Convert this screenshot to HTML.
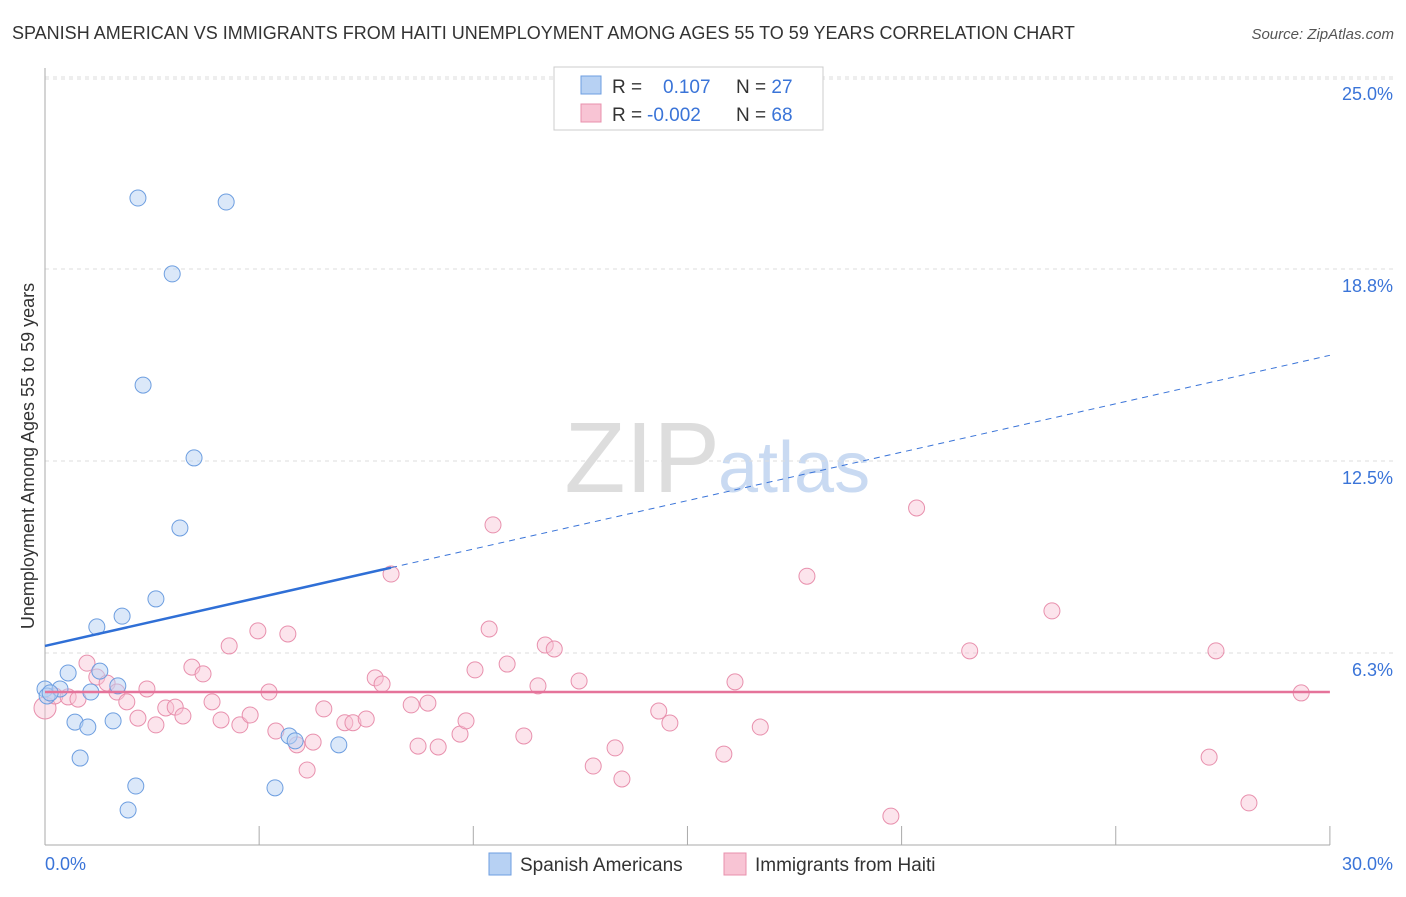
<!DOCTYPE html>
<html><head><meta charset="utf-8"><style>
body{margin:0;background:#fff;font-family:"Liberation Sans",sans-serif}
svg text{font-family:"Liberation Sans",sans-serif}
</style></head><body>
<svg id="chart" width="1406" height="892">
<text x="12" y="39" font-size="18" fill="#333">SPANISH AMERICAN VS IMMIGRANTS FROM HAITI UNEMPLOYMENT AMONG AGES 55 TO 59 YEARS CORRELATION CHART</text>
<text x="1394" y="39" font-size="15" fill="#555" font-style="italic" text-anchor="end">Source: ZipAtlas.com</text>
<text x="720" y="492" font-size="100" fill="#ddd" text-anchor="end" font-family="Liberation Serif">ZIP</text>
<text x="718" y="492" font-size="72" fill="#c9daf2">atlas</text>
<g id="grid"></g><g id="axes"></g><g id="marks"></g>
<text transform="translate(34,456) rotate(-90)" font-size="18" fill="#333" text-anchor="middle">Unemployment Among Ages 55 to 59 years</text>
<g>
<rect x="554" y="67" width="269" height="63" fill="#fff" stroke="#ccc"/>
<rect x="581" y="76" width="20" height="18" fill="#b7d1f3" stroke="#6d9ee0"/>
<rect x="581" y="104" width="20" height="18" fill="#f8c4d4" stroke="#e890ad"/>
<text x="612" y="93" font-size="19" fill="#333">R = <tspan fill="#3a74d8" x="663">0.107</tspan><tspan x="736" fill="#333">N = </tspan><tspan fill="#3a74d8">27</tspan></text>
<text x="612" y="121" font-size="19" fill="#333">R = <tspan fill="#3a74d8" x="647">-0.002</tspan><tspan x="736" fill="#333">N = </tspan><tspan fill="#3a74d8">68</tspan></text>
</g>
<g>
<rect x="489" y="853" width="22" height="22" fill="#b7d1f3" stroke="#6d9ee0"/>
<text x="520" y="871" font-size="19" fill="#333">Spanish Americans</text>
<rect x="724" y="853" width="22" height="22" fill="#f8c4d4" stroke="#e890ad"/>
<text x="755" y="871" font-size="19" fill="#333">Immigrants from Haiti</text>
</g>
</svg>
<script>
const xTicks=[0,5,10,15,20,25,30];
const yTicks=[6.25,12.5,18.75,25];
const yTickLabels=["6.3%","12.5%","18.8%","25.0%"];
const blueX=[0,0.05,0.35,0.54,0.7,0.82,1.0,1.07,1.21,1.28,1.59,1.7,1.8,1.94,2.12,2.17,2.29,2.59,2.97,3.15,3.48,4.23,5.37,5.7,5.84,6.86,0.12];
const blueY=[5.08,4.85,5.08,5.6,4.0,2.83,3.84,4.98,7.1,5.66,4.04,5.18,7.45,1.14,1.92,21.06,14.97,8.01,18.59,10.32,12.6,20.93,1.86,3.55,3.39,3.26,4.95];
const pinkX=[0,0.23,0.54,0.77,0.98,1.21,1.45,1.68,1.91,2.17,2.38,2.59,2.82,3.04,3.22,3.43,3.69,3.9,4.11,4.3,4.55,4.79,4.97,5.23,5.39,5.67,5.88,6.12,6.26,6.51,7.0,7.19,7.5,7.71,7.87,8.08,8.55,8.71,8.94,9.18,9.69,9.83,10.04,10.46,10.79,11.18,11.51,11.68,11.89,12.47,12.8,13.31,13.47,14.33,14.59,15.85,16.11,16.7,17.79,19.75,20.35,21.59,23.51,27.18,27.34,28.11,29.33,10.37];
const pinkY=[4.46,4.85,4.82,4.75,5.92,5.47,5.27,4.98,4.66,4.13,5.08,3.91,4.46,4.49,4.2,5.79,5.57,4.66,4.07,6.48,3.91,4.23,6.97,4.98,3.71,6.87,3.26,2.44,3.35,4.43,3.98,3.98,4.1,5.44,5.24,8.82,4.56,3.22,4.62,3.19,3.61,4.04,5.7,10.42,5.89,3.55,5.18,6.51,6.38,5.34,2.57,3.16,2.15,4.36,3.97,2.96,5.31,3.84,8.75,0.94,10.97,6.32,7.62,2.86,6.32,1.37,4.95,7.03];
const blueLine=[0,6.48,30,15.94];
const blueSolidEnd=8.08;
const pinkMean=4.98;
const X=v=>45+v*42.83, Y=v=>845-v*30.72;
const NS="http://www.w3.org/2000/svg";
function mk(parent,tag,attrs){const e=document.createElementNS(NS,tag);for(const k in attrs)e.setAttribute(k,attrs[k]);document.getElementById(parent).appendChild(e);return e;}
yTicks.forEach((t,i)=>{
 const g=mk('grid','line',{x1:45,x2:1395,y1:Y(t),y2:Y(t),stroke:'#ddd','stroke-dasharray':'4,4'});
 
 
 const l=mk('axes','text',{x:1393,y:Y(t)+23,'font-size':18,fill:'#3a74d8','text-anchor':'end'});
 l.textContent=yTickLabels[i];
 
 
});
const topg=mk('grid','line',{x1:45,x2:1395,y1:Y(25)+2,y2:Y(25)+2,stroke:'#ddd','stroke-dasharray':'4,4'});


const ya=mk('axes','line',{x1:45,x2:45,y1:68,y2:845,stroke:'#aaa'});


const xa=mk('axes','line',{x1:45,x2:1330,y1:845,y2:845,stroke:'#aaa'});


xTicks.forEach(t=>{
 const k=mk('axes','line',{x1:X(t),x2:X(t),y1:826,y2:845,stroke:'#aaa'});
 
 
});
const xl0=mk('axes','text',{x:45,y:870,'font-size':18,fill:'#3a74d8'});xl0.textContent=xTicks[0].toFixed(1)+'%';


const xl1=mk('axes','text',{x:1393,y:870,'font-size':18,fill:'#3a74d8','text-anchor':'end'});xl1.textContent=xTicks[6].toFixed(1)+'%';


pinkX.forEach((x,i)=>{
 const c=mk('marks','circle',{cx:X(x),cy:Y(pinkY[i]),r:i==0?11:8,fill:'rgba(248,196,212,0.45)',stroke:'#e890ad','stroke-width':1});
 
 
});
blueX.forEach((x,i)=>{
 const c=mk('marks','circle',{cx:X(x),cy:Y(blueY[i]),r:8,fill:'rgba(183,209,243,0.5)',stroke:'#6d9ee0','stroke-width':1});
 
 
});
const by=v=>blueLine[1]+(blueLine[3]-blueLine[1])*(v-blueLine[0])/(blueLine[2]-blueLine[0]);
const bd=mk('marks','line',{x1:X(blueSolidEnd),y1:Y(by(blueSolidEnd)),x2:X(30),y2:Y(by(30)),stroke:'#3a74d8','stroke-width':1,'stroke-dasharray':'6,5'});


const bs=mk('marks','line',{x1:X(0),y1:Y(by(0)),x2:X(blueSolidEnd),y2:Y(by(blueSolidEnd)),stroke:'#2f6fd6','stroke-width':2.5});


const pl=mk('marks','line',{x1:X(0),y1:Y(pinkMean),x2:X(30),y2:Y(pinkMean),stroke:'#e5739a','stroke-width':2.5});


</script>
</body></html>
